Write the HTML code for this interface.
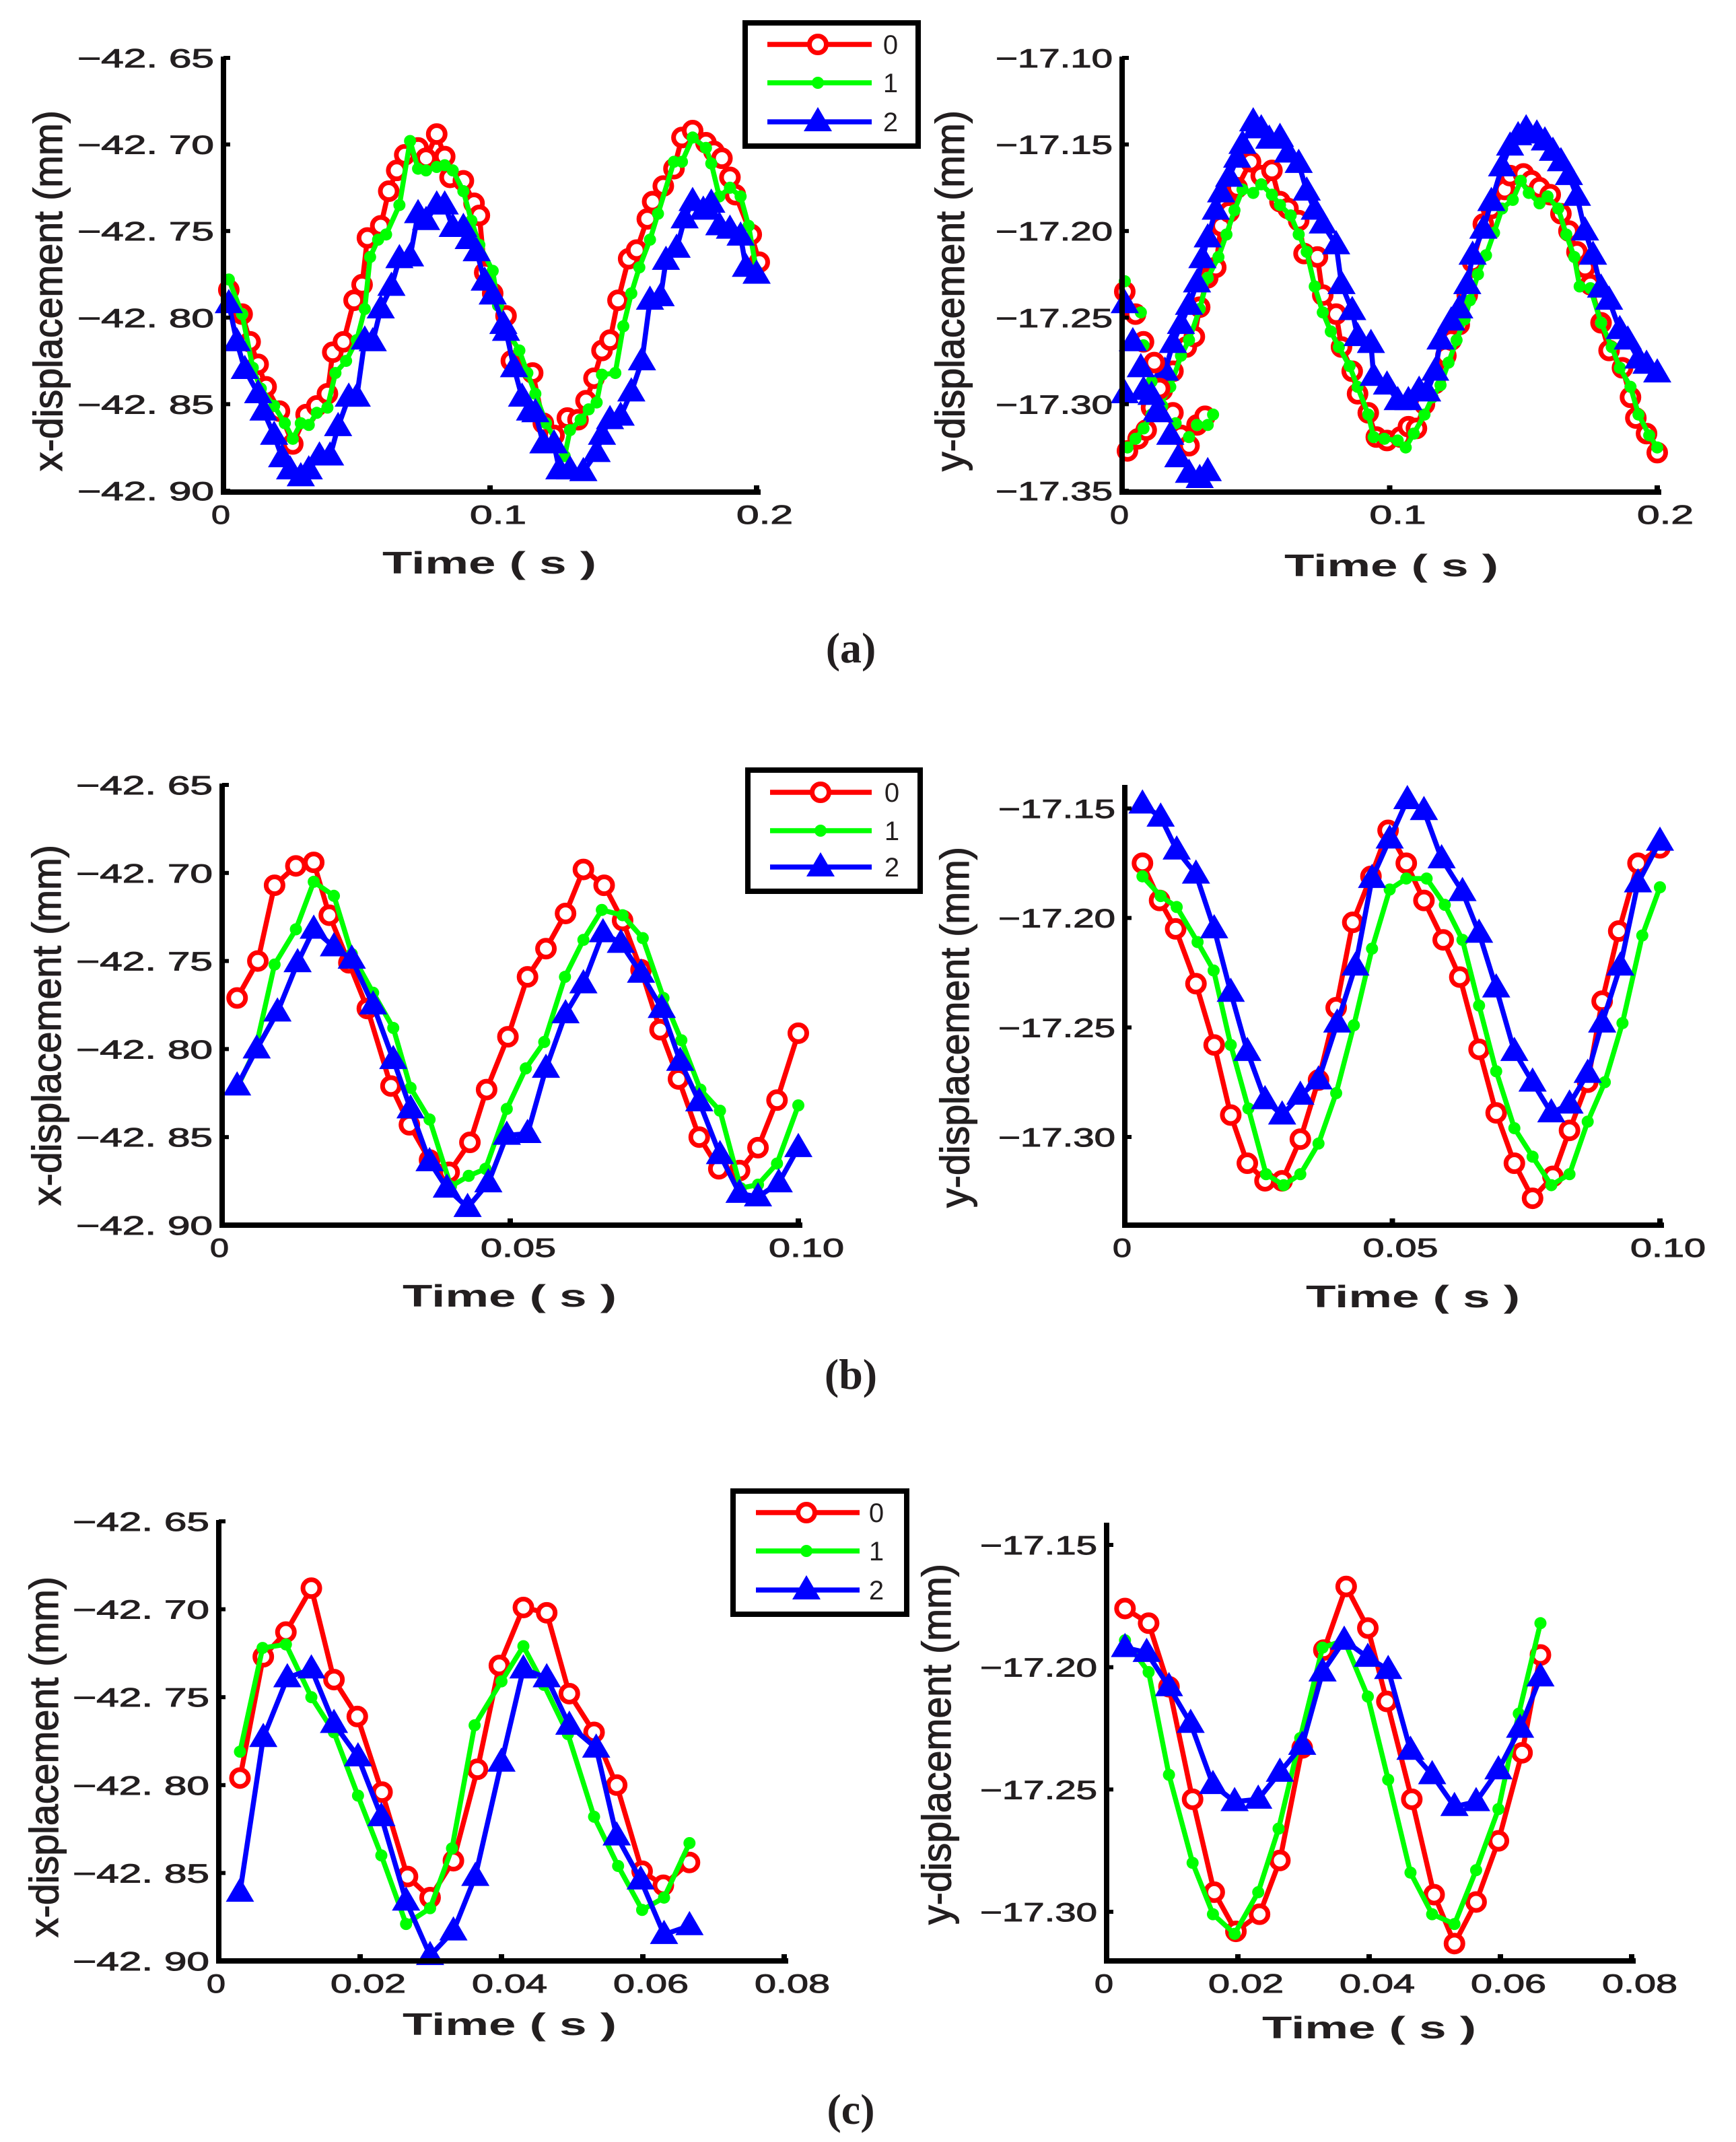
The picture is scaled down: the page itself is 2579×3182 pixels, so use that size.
<!DOCTYPE html>
<html><head><meta charset="utf-8">
<style>
html,body{margin:0;padding:0;background:#fff;}
svg{display:block;}
text{font-family:"Liberation Sans",sans-serif;fill:#231f20;}
</style></head>
<body>
<svg id="fig" xmlns="http://www.w3.org/2000/svg" width="2579" height="3182" viewBox="0 0 2579 3182">
<rect x="0" y="0" width="2579" height="3182" fill="#fff"/>
<text x="1264" y="984" text-anchor="middle" font-weight="bold" font-size="64" style="font-family:'Liberation Serif',serif">(a)</text>
<text x="1264" y="2063" text-anchor="middle" font-weight="bold" font-size="64" style="font-family:'Liberation Serif',serif">(b)</text>
<text x="1264" y="3155" text-anchor="middle" font-weight="bold" font-size="64" style="font-family:'Liberation Serif',serif">(c)</text>
</svg>
<script>
// ===== Panel (a) left: x-displacement, 0..0.2 s =====
const aL_t0=[.002,.007,.010,.013,.016,.021,.026,.031,.035,.039,.041,.045,.049,.052,.054,.059,.062,.065,.068,.073,.076,.080,.083,.085,.090,.094,.096,.098,.101,.106,.108,.116,.120,.124,.129,.133,.136,.139,.142,.145,.148,.152,.155,.159,.161,.165,.169,.172,.176,.181,.184,.187,.190,.192,.198,.201];
const aL_v0=[-42.784,-42.798,-42.814,-42.827,-42.840,-42.854,-42.873,-42.856,-42.851,-42.844,-42.820,-42.814,-42.790,-42.781,-42.754,-42.747,-42.727,-42.715,-42.706,-42.702,-42.708,-42.694,-42.707,-42.719,-42.721,-42.734,-42.741,-42.774,-42.786,-42.799,-42.825,-42.832,-42.861,-42.868,-42.858,-42.859,-42.848,-42.835,-42.819,-42.813,-42.790,-42.766,-42.761,-42.743,-42.733,-42.724,-42.714,-42.696,-42.692,-42.699,-42.704,-42.708,-42.719,-42.729,-42.752,-42.768];
const aL_t1=[.002,.007,.011,.014,.019,.023,.026,.029,.032,.035,.039,.042,.046,.050,.053,.055,.058,.061,.066,.070,.073,.076,.080,.083,.086,.090,.093,.096,.101,.103,.106,.111,.114,.117,.121,.128,.130,.134,.137,.140,.142,.147,.150,.153,.156,.160,.163,.169,.172,.176,.181,.183,.186,.190,.194,.197,.200];
const aL_v1=[-42.778,-42.798,-42.829,-42.841,-42.851,-42.861,-42.870,-42.861,-42.862,-42.855,-42.852,-42.832,-42.825,-42.813,-42.795,-42.765,-42.755,-42.752,-42.735,-42.698,-42.714,-42.715,-42.713,-42.712,-42.715,-42.727,-42.744,-42.758,-42.773,-42.793,-42.807,-42.819,-42.832,-42.844,-42.861,-42.880,-42.865,-42.859,-42.853,-42.849,-42.833,-42.832,-42.805,-42.786,-42.771,-42.755,-42.740,-42.710,-42.710,-42.696,-42.702,-42.711,-42.730,-42.725,-42.730,-42.747,-42.773];
const aL_t2=[.002,.005,.008,.013,.015,.019,.022,.025,.029,.032,.036,.040,.043,.047,.050,.053,.056,.059,.063,.066,.070,.073,.076,.080,.083,.086,.090,.092,.095,.098,.101,.105,.106,.109,.112,.115,.117,.120,.124,.126,.130,.135,.140,.142,.145,.149,.153,.157,.160,.164,.166,.170,.173,.176,.180,.183,.186,.190,.194,.196,.200];
const aL_v2=[-42.792,-42.814,-42.830,-42.844,-42.854,-42.868,-42.881,-42.888,-42.892,-42.888,-42.880,-42.880,-42.863,-42.846,-42.846,-42.813,-42.814,-42.795,-42.782,-42.766,-42.765,-42.740,-42.744,-42.735,-42.735,-42.748,-42.748,-42.755,-42.762,-42.779,-42.787,-42.804,-42.808,-42.829,-42.846,-42.854,-42.855,-42.873,-42.873,-42.888,-42.888,-42.889,-42.878,-42.868,-42.859,-42.857,-42.843,-42.825,-42.790,-42.788,-42.767,-42.760,-42.743,-42.733,-42.738,-42.734,-42.747,-42.749,-42.753,-42.771,-42.775];

// ===== Panel (a) right: y-displacement, 0..0.2 s =====
const aR_t0=[.002,.006,.009,.011,.015,.019,.024,.027,.029,.032,.035,.037,.040,.043,.048,.052,.056,.059,.062,.066,.068,.073,.075,.080,.082,.086,.088,.092,.095,.099,.104,.107,.110,.113,.117,.121,.123,.126,.129,.131,.135,.138,.143,.145,.150,.153,.156,.160,.164,.167,.170,.173,.175,.179,.182,.187,.190,.192,.196,.200];
const aR_v0=[-17.327,-17.320,-17.315,-17.302,-17.292,-17.281,-17.267,-17.261,-17.244,-17.227,-17.221,-17.197,-17.189,-17.175,-17.160,-17.168,-17.165,-17.183,-17.187,-17.194,-17.213,-17.215,-17.237,-17.248,-17.267,-17.281,-17.294,-17.305,-17.319,-17.321,-17.319,-17.313,-17.314,-17.300,-17.288,-17.272,-17.263,-17.254,-17.237,-17.218,-17.196,-17.187,-17.176,-17.168,-17.167,-17.171,-17.175,-17.179,-17.190,-17.200,-17.212,-17.221,-17.231,-17.253,-17.269,-17.279,-17.296,-17.308,-17.317,-17.328];
const aR_t1=[.002,.005,.008,.011,.014,.018,.022,.025,.029,.032,.036,.039,.042,.045,.049,.052,.056,.059,.063,.066,.069,.072,.075,.078,.081,.085,.088,.092,.094,.098,.103,.106,.109,.113,.116,.119,.122,.125,.128,.130,.133,.136,.139,.142,.146,.149,.152,.156,.159,.163,.166,.169,.171,.175,.179,.183,.186,.190,.193,.197,.200];
const aR_v1=[-17.325,-17.320,-17.314,-17.306,-17.301,-17.290,-17.272,-17.263,-17.245,-17.227,-17.215,-17.202,-17.188,-17.176,-17.178,-17.173,-17.179,-17.185,-17.191,-17.202,-17.212,-17.232,-17.247,-17.258,-17.267,-17.278,-17.290,-17.306,-17.319,-17.320,-17.321,-17.325,-17.317,-17.306,-17.296,-17.289,-17.276,-17.263,-17.251,-17.240,-17.225,-17.214,-17.201,-17.187,-17.182,-17.171,-17.178,-17.184,-17.180,-17.187,-17.202,-17.215,-17.232,-17.233,-17.253,-17.267,-17.279,-17.290,-17.306,-17.318,-17.325];
const aR_t2=[.013,.016,.019,.022,.025,.028,.030,.032,.035,.037,.040,.043,.045,.049,.052,.055,.059,.062,.066,.069,.072,.075,.080,.082,.086,.088,.093,.094,.099,.103,.107,.111,.114,.117,.119,.123,.126,.129,.131,.135,.138,.142,.145,.148,.151,.155,.158,.161,.164,.167,.170,.173,.176,.179,.182,.186,.189,.193,.196,.200];
const aR_v2=[-17.304,-17.281,-17.265,-17.254,-17.243,-17.230,-17.216,-17.204,-17.188,-17.178,-17.169,-17.158,-17.150,-17.137,-17.141,-17.147,-17.146,-17.155,-17.161,-17.177,-17.188,-17.196,-17.208,-17.231,-17.246,-17.261,-17.265,-17.284,-17.289,-17.298,-17.298,-17.292,-17.293,-17.281,-17.263,-17.252,-17.245,-17.231,-17.214,-17.199,-17.183,-17.163,-17.151,-17.145,-17.141,-17.144,-17.148,-17.154,-17.160,-17.168,-17.180,-17.200,-17.214,-17.233,-17.240,-17.257,-17.263,-17.274,-17.277,-17.282];
// stray early samples (markers)
const aR_st0=[.001,.005,.008,.012,.014,.019,.022,.025,.028,.031];
const aR_sv0=[-17.235,-17.248,-17.264,-17.276,-17.291,-17.305,-17.318,-17.324,-17.312,-17.307];
const aR_st1=[.001,.007,.008,.011,.015,.020,.025,.028,.032,.034];
const aR_sv1=[-17.229,-17.247,-17.266,-17.287,-17.301,-17.311,-17.319,-17.312,-17.312,-17.306];
const aR_st2=[.001,.004,.007,.001,.008,.011,.014,.018,.021,.025,.029,.032];
const aR_sv2=[-17.242,-17.264,-17.279,-17.294,-17.292,-17.295,-17.305,-17.318,-17.331,-17.340,-17.343,-17.339];

// ===== Panel (b) left =====
const bL_t0=[.0026,.0062,.0091,.0128,.0159,.0186,.022,.0252,.0293,.0325,.036,.0394,.043,.0459,.0496,.053,.0562,.0596,.0627,.0663,.0695,.0727,.076,.0792,.0828,.0862,.0898,.093,.0963,.100];
const bL_v0=[-42.771,-42.750,-42.707,-42.696,-42.694,-42.724,-42.751,-42.777,-42.821,-42.843,-42.863,-42.870,-42.853,-42.823,-42.793,-42.759,-42.743,-42.723,-42.698,-42.707,-42.727,-42.755,-42.789,-42.817,-42.850,-42.868,-42.869,-42.856,-42.829,-42.791];
const bL_t1=[.0026,.0058,.0091,.0128,.0159,.0194,.0225,.0262,.0297,.0327,.036,.0397,.0428,.0457,.0494,.0527,.0559,.0595,.0627,.0659,.0695,.073,.0766,.0797,.083,.0864,.09,.093,.0963,.100];
const bL_v1=[-42.822,-42.800,-42.752,-42.732,-42.705,-42.713,-42.746,-42.768,-42.788,-42.822,-42.840,-42.878,-42.872,-42.868,-42.834,-42.811,-42.796,-42.759,-42.738,-42.721,-42.724,-42.737,-42.771,-42.795,-42.823,-42.835,-42.879,-42.877,-42.865,-42.832];
const bL_t2=[.0026,.006,.0096,.0131,.0159,.0194,.0225,.0262,.0297,.0327,.036,.039,.0426,.0462,.0494,.053,.0562,.0596,.0627,.0661,.0692,.0727,.0763,.0795,.0828,.0864,.0898,.093,.0966,.100];
const bL_v2=[-42.821,-42.800,-42.779,-42.751,-42.732,-42.742,-42.749,-42.775,-42.806,-42.834,-42.864,-42.879,-42.890,-42.876,-42.849,-42.848,-42.811,-42.780,-42.763,-42.734,-42.740,-42.757,-42.777,-42.807,-42.830,-42.860,-42.882,-42.884,-42.876,-42.856];

// ===== Panel (b) right =====
const bR_t0=[.0033,.0065,.0095,.0133,.0167,.0198,.0229,.0262,.0294,.0328,.0362,.0395,.0426,.046,.0492,.0526,.0559,.0595,.0626,.0662,.0694,.0728,.0762,.080,.0831,.0865,.0892,.0923,.0959,.100];
const bR_v0=[-17.175,-17.192,-17.205,-17.230,-17.258,-17.290,-17.312,-17.320,-17.320,-17.301,-17.274,-17.241,-17.202,-17.181,-17.160,-17.175,-17.192,-17.210,-17.227,-17.260,-17.289,-17.312,-17.328,-17.318,-17.297,-17.275,-17.238,-17.206,-17.175,-17.168];
const bR_t1=[.0033,.0067,.0097,.0136,.0166,.0198,.0231,.0264,.0297,.0328,.0362,.0395,.0428,.0462,.0495,.0526,.0564,.0598,.0631,.0662,.0694,.0728,.0762,.0797,.0831,.0865,.0897,.093,.0967,.100];
const bR_v1=[-17.181,-17.190,-17.195,-17.211,-17.224,-17.258,-17.287,-17.317,-17.322,-17.317,-17.303,-17.280,-17.249,-17.214,-17.187,-17.182,-17.182,-17.194,-17.210,-17.240,-17.270,-17.296,-17.309,-17.322,-17.317,-17.293,-17.275,-17.248,-17.208,-17.186];
const bR_t2=[.0033,.0067,.0097,.0133,.0167,.0198,.0229,.0262,.0294,.0328,.0362,.0397,.0431,.0462,.0495,.0528,.0559,.0592,.0631,.0662,.0694,.0728,.0762,.0797,.0831,.0865,.0892,.0926,.0959,.100];
const bR_v2=[-17.148,-17.154,-17.169,-17.180,-17.205,-17.234,-17.261,-17.283,-17.290,-17.281,-17.274,-17.248,-17.222,-17.182,-17.164,-17.146,-17.151,-17.173,-17.188,-17.207,-17.232,-17.261,-17.275,-17.289,-17.285,-17.271,-17.248,-17.222,-17.184,-17.165];

// ===== Panel (c) left =====
const cL_t0=[.003,.0063,.0095,.0131,.0163,.0196,.0231,.0267,.0299,.0332,.0366,.0397,.0431,.0464,.0496,.0531,.0563,.0599,.0629,.0666];
const cL_v0=[-42.796,-42.727,-42.713,-42.688,-42.740,-42.761,-42.804,-42.852,-42.864,-42.843,-42.791,-42.732,-42.699,-42.702,-42.748,-42.770,-42.800,-42.849,-42.857,-42.844];
const cL_t1=[.003,.0062,.0095,.0131,.0163,.0197,.023,.0265,.0299,.033,.0362,.040,.0431,.046,.0494,.0531,.0565,.0599,.063,.0666];
const cL_v1=[-42.781,-42.722,-42.720,-42.750,-42.770,-42.806,-42.840,-42.879,-42.870,-42.836,-42.766,-42.741,-42.721,-42.743,-42.771,-42.818,-42.846,-42.871,-42.864,-42.833];
const cL_t2=[.003,.0063,.0097,.0131,.0163,.0197,.023,.0265,.0299,.0332,.0363,.040,.0431,.0464,.0496,.0534,.0563,.0597,.063,.0666];
const cL_v2=[-42.861,-42.773,-42.739,-42.734,-42.765,-42.784,-42.818,-42.866,-42.897,-42.883,-42.852,-42.787,-42.734,-42.739,-42.766,-42.779,-42.829,-42.854,-42.885,-42.880];

// ===== Panel (c) right =====
const cR_t0=[.0028,.0064,.0095,.0131,.0164,.0197,.0233,.0264,.0298,.0331,.0365,.0398,.0427,.0465,.0499,.053,.0563,.0597,.0633,.0661];
const cR_v0=[-17.176,-17.182,-17.208,-17.254,-17.292,-17.308,-17.301,-17.279,-17.233,-17.193,-17.167,-17.184,-17.214,-17.254,-17.293,-17.313,-17.296,-17.271,-17.235,-17.195];
const cR_t1=[.0028,.0064,.0095,.0131,.0162,.0195,.0231,.0262,.0295,.0329,.0362,.0398,.0429,.0463,.0496,.053,.0563,.0597,.0628,.0661];
const cR_v1=[-17.189,-17.202,-17.244,-17.280,-17.301,-17.309,-17.292,-17.266,-17.229,-17.192,-17.189,-17.212,-17.246,-17.284,-17.301,-17.305,-17.283,-17.258,-17.219,-17.182];
const cR_t2=[.0028,.0061,.0095,.0128,.0162,.0195,.0231,.0264,.0298,.0329,.0362,.0398,.0429,.0463,.0496,.053,.0563,.0597,.063,.0661];
const cR_v2=[-17.192,-17.194,-17.208,-17.223,-17.248,-17.255,-17.254,-17.243,-17.232,-17.202,-17.189,-17.196,-17.201,-17.234,-17.244,-17.257,-17.255,-17.242,-17.225,-17.204];

// tick values & labels
const xTicksA=[0,0.1,0.2];          const xLabA=["0","0.1","0.2"];
const xTicksB=[0,0.05,0.10];        const xLabB=["0","0.05","0.10"];
const xTicksC=[0,0.02,0.04,0.06,0.08]; const xLabC=["0","0.02","0.04","0.06","0.08"];
const yTicksXd=[-42.65,-42.70,-42.75,-42.80,-42.85,-42.90];
const yLabXd=["\u221242. 65","\u221242. 70","\u221242. 75","\u221242. 80","\u221242. 85","\u221242. 90"];
const yTicksYdA=[-17.10,-17.15,-17.20,-17.25,-17.30,-17.35];
const yLabYdA=["\u221217.10","\u221217.15","\u221217.20","\u221217.25","\u221217.30","\u221217.35"];
const yTicksYdB=[-17.15,-17.20,-17.25,-17.30];
const yLabYdB=["\u221217.15","\u221217.20","\u221217.25","\u221217.30"];
const legendLabels=["0","1","2"];

const NS="http://www.w3.org/2000/svg";
const svg=document.getElementById("fig");
const COLORS=["#ff0000","#00ff00","#0000ff"];
function mk(tag,parent){const e=document.createElementNS(NS,tag);parent.appendChild(e);return e;}
function sa(e,o){for(const k in o)e.setAttribute(k,o[k]);return e;}

function marker(g,i,x,y){
  let m;
  if(i===0){m=mk("circle",g);sa(m,{cx:x,cy:y,r:12.5,fill:"#fff",stroke:COLORS[0],"stroke-width":7});}
  else if(i===1){m=mk("circle",g);sa(m,{cx:x,cy:y,r:9,fill:COLORS[1]});}
  else {m=mk("polygon",g);sa(m,{points:`${x},${y-22} ${x-21},${y+14} ${x+21},${y+14}`,fill:COLORS[2]});}
  return m;
}

const panels=[
 {id:"a-left",x0:332,x1:1124,tmax:0.2,vA:-42.65,yA:86,vB:-42.90,yB:729,top:84,bot:731,xt:xTicksA,xl:xLabA,yt:yTicksXd,yl:yLabXd,title:"x-displacement (mm)",titleX:92,titleY:432,timeX:727,timeY:852,
  series:[[aL_t0,aL_v0],[aL_t1,aL_v1],[aL_t2,aL_v2]]},
 {id:"a-right",x0:1667,x1:2462,tmax:0.2,vA:-17.10,yA:86,vB:-17.35,yB:729,top:84,bot:731,xt:xTicksA,xl:xLabA,yt:yTicksYdA,yl:yLabYdA,title:"y-displacement (mm)",titleX:1432,titleY:432,timeX:2067,timeY:856,
  series:[[aR_t0,aR_v0],[aR_t1,aR_v1],[aR_t2,aR_v2]],stray:[[aR_st0,aR_sv0],[aR_st1,aR_sv1],[aR_st2,aR_sv2]]},
 {id:"b-left",x0:330,x1:1186,tmax:0.10,vA:-42.65,yA:1166,vB:-42.90,yB:1820,top:1164,bot:1820,xt:xTicksB,xl:xLabB,yt:yTicksXd,yl:yLabXd,title:"x-displacement (mm)",titleX:90,titleY:1523,timeX:757,timeY:1941,
  series:[[bL_t0,bL_v0],[bL_t1,bL_v1],[bL_t2,bL_v2]]},
 {id:"b-right",x0:1671,x1:2466,tmax:0.10,vA:-17.15,yA:1201,vB:-17.30,yB:1689,top:1166,bot:1820,xt:xTicksB,xl:xLabB,yt:yTicksYdB,yl:yLabYdB,title:"y-displacement (mm)",titleX:1439,titleY:1526,timeX:2099,timeY:1942,
  series:[[bR_t0,bR_v0],[bR_t1,bR_v1],[bR_t2,bR_v2]]},
 {id:"c-left",x0:325,x1:1165,tmax:0.08,vA:-42.65,yA:2260,vB:-42.90,yB:2913,top:2258,bot:2913,xt:xTicksC,xl:xLabC,yt:yTicksXd,yl:yLabXd,title:"x-displacement (mm)",titleX:86,titleY:2610,timeX:757,timeY:3023,
  series:[[cL_t0,cL_v0],[cL_t1,cL_v1],[cL_t2,cL_v2]]},
 {id:"c-right",x0:1644,x1:2424,tmax:0.08,vA:-17.15,yA:2295,vB:-17.30,yB:2840,top:2262,bot:2913,xt:xTicksC,xl:xLabC,yt:yTicksYdB,yl:yLabYdB,title:"y-displacement (mm)",titleX:1412,titleY:2591,timeX:2034,timeY:3028,
  series:[[cR_t0,cR_v0],[cR_t1,cR_v1],[cR_t2,cR_v2]]}
];

panels.forEach(p=>{
  const xs=t=>p.x0+(t/p.tmax)*(p.x1-p.x0);
  const ys=v=>p.yA+(v-p.vA)/(p.vB-p.vA)*(p.yB-p.yA);
  const g=mk("g",svg);
  
  
  p.series.forEach((s,i)=>{
    const sg=mk("g",g);
    
    
    const pts=s[0].map((t,k)=>xs(t).toFixed(1)+","+ys(s[1][k]).toFixed(1)).join(" ");
    const pl=mk("polyline",sg);
    sa(pl,{points:pts,fill:"none",stroke:COLORS[i],"stroke-width":7.5,"stroke-linejoin":"round"});
    
    
    s[0].forEach((t,k)=>{
      const m=marker(sg,i,xs(t),ys(s[1][k]));
      
      
    });
  });
  if(p.stray){
    p.stray.forEach((s,i)=>{
      s[0].forEach((t,k)=>{
        const m=marker(g,i,xs(t),ys(s[1][k]));
        
        
      });
    });
  }
  const ax=mk("path",g);
  sa(ax,{d:`M${p.x0},${p.top} L${p.x0},${p.bot} L${p.x1+6},${p.bot}`,fill:"none",stroke:"#000","stroke-width":8});
  
  
  p.yt.forEach((v,k)=>{
    const y=ys(v);
    const tk=mk("line",g);sa(tk,{x1:p.x0,x2:p.x0+10,y1:y,y2:y,stroke:"#000","stroke-width":6});
    
    
    const tx=mk("text",g);
    sa(tx,{x:p.x0-14,y:y+14,"text-anchor":"end","font-size":39,stroke:"#231f20","stroke-width":1,textLength:p.yl[k].length*29,lengthAdjust:"spacingAndGlyphs"});
    tx.textContent=p.yl[k];
    
    
  });
  p.xt.forEach((t,k)=>{
    const x=xs(t);
    const tk=mk("line",g);sa(tk,{x1:x,x2:x,y1:p.bot,y2:p.bot-10,stroke:"#000","stroke-width":8});
    
    
    const tx=mk("text",g);
    const w=p.xl[k].length*28;
    sa(tx,{x:x-w/2+(k===0?-4:12),y:p.bot+47,"font-size":39,stroke:"#231f20","stroke-width":1,textLength:w,lengthAdjust:"spacingAndGlyphs"});
    tx.textContent=p.xl[k];
    
    
  });
  const yt=mk("text",g);
  sa(yt,{x:0,y:0,transform:`translate(${p.titleX},${p.titleY}) rotate(-90)`,"text-anchor":"middle","font-size":60,stroke:"#231f20","stroke-width":1.2,textLength:536,lengthAdjust:"spacingAndGlyphs"});
  yt.textContent=p.title;
  
  
  const xt=mk("text",g);
  sa(xt,{x:p.timeX,y:p.timeY,"text-anchor":"middle","font-size":46,"font-weight":"bold",textLength:318,lengthAdjust:"spacingAndGlyphs"});
  xt.textContent="Time ( s )";
  
  
});

const legends=[
 {id:"a",x:1107,y:34,w:257,h:183,ly:[66,123,181],l0:1140,l1:1295,mx:1215,tx:1323},
 {id:"b",x:1111,y:1144,w:256,h:180,ly:[1177,1234,1288],l0:1144,l1:1295,mx:1219,tx:1325},
 {id:"c",x:1089,y:2215,w:258,h:183,ly:[2247,2304,2362],l0:1123,l1:1277,mx:1198,tx:1302}
];
legends.forEach(L=>{
  const g=mk("g",svg);
  
  
  const r=mk("rect",g);
  sa(r,{x:L.x,y:L.y,width:L.w,height:L.h,fill:"#fff",stroke:"#000","stroke-width":8});
  
  
  legendLabels.forEach((lab,i)=>{
    const eg=mk("g",g);
    
    
    const ln=mk("line",eg);
    sa(ln,{x1:L.l0,x2:L.l1,y1:L.ly[i],y2:L.ly[i],stroke:COLORS[i],"stroke-width":7.5});
    marker(eg,i,L.mx,L.ly[i]);
    const t=mk("text",eg);
    sa(t,{x:L.tx,y:L.ly[i]+14,"text-anchor":"middle","font-size":40});
    t.textContent=lab;
  });
});
</script>
</body></html>
